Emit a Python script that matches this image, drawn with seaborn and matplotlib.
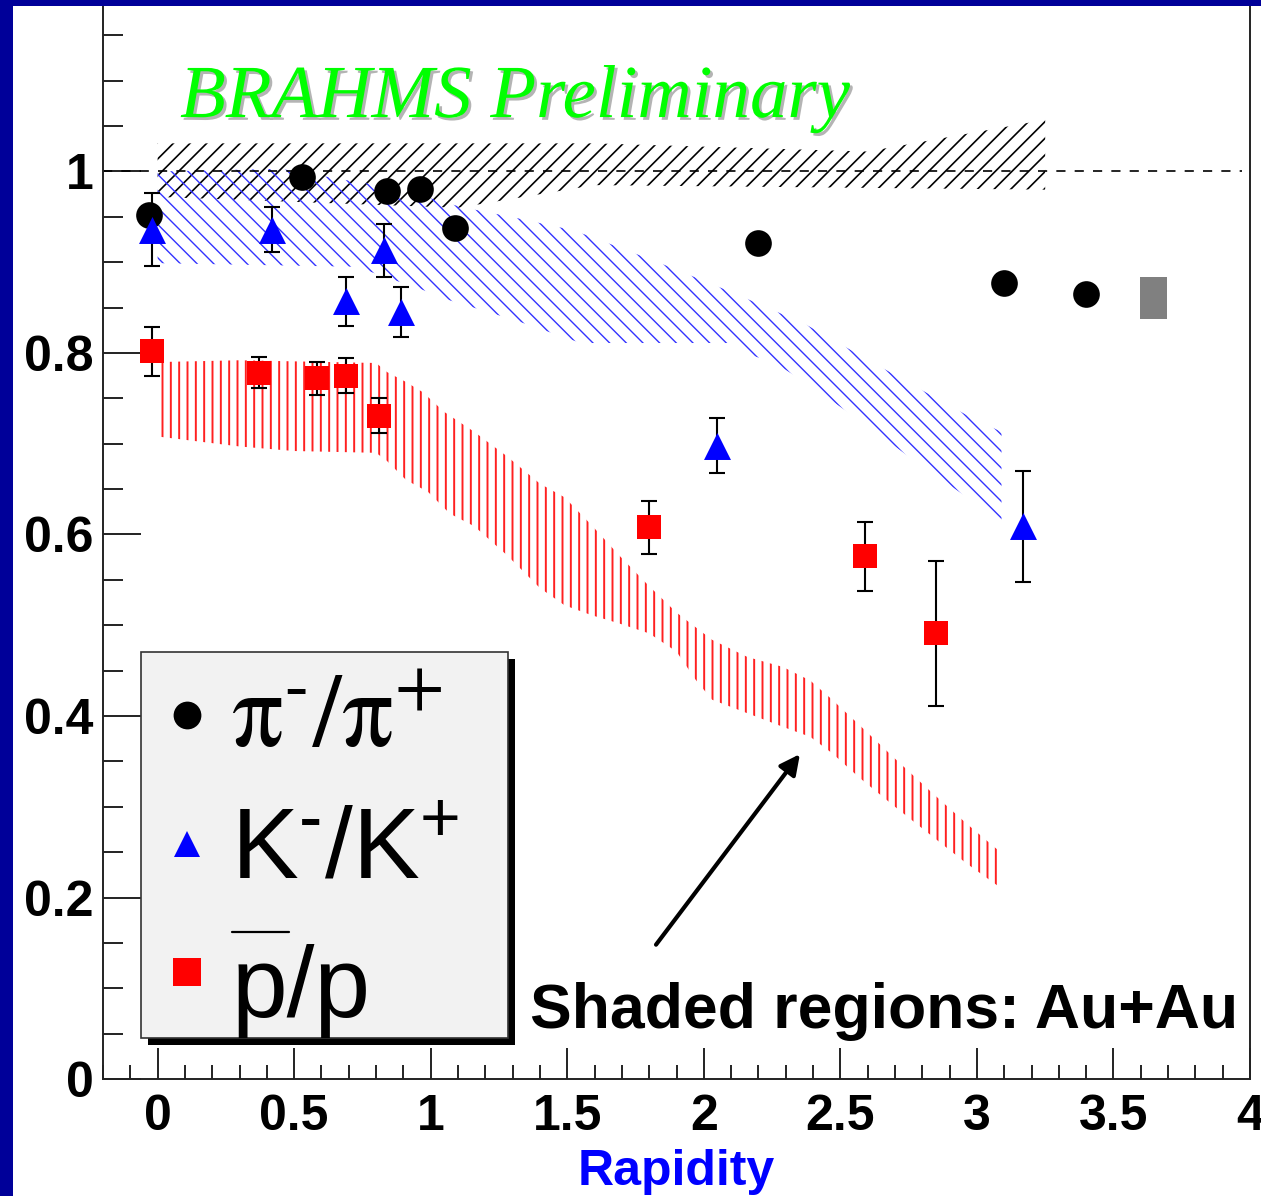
import numpy as np
import pandas as pd
import seaborn as sns
import matplotlib
matplotlib.use("Agg")
import matplotlib.pyplot as plt
from matplotlib.patches import Rectangle
from matplotlib.ticker import MultipleLocator
import matplotlib.patheffects as pe

# ---------------- d+Au antiparticle/particle ratios ----------------
pi_x = [-0.03, 0.53, 0.84, 0.96, 1.09, 2.20, 3.10, 3.40]
pi_ratio = [0.952, 0.994, 0.978, 0.981, 0.938, 0.921, 0.877, 0.865]
pi_err = [0.010, 0.010, 0.010, 0.010, 0.010, 0.010, 0.010, 0.010]

k_x = [-0.02, 0.42, 0.69, 0.83, 0.89, 2.05, 3.17]
k_ratio = [0.936, 0.936, 0.857, 0.913, 0.845, 0.698, 0.609]
k_err = [0.040, 0.025, 0.027, 0.029, 0.0275, 0.0305, 0.061]

p_x = [-0.02, 0.37, 0.585, 0.69, 0.81, 1.80, 2.59, 2.85]
p_ratio = [0.802, 0.7785, 0.772, 0.775, 0.731, 0.608, 0.576, 0.491]
p_err = [0.027, 0.0175, 0.0185, 0.0195, 0.019, 0.029, 0.038, 0.080]

# systematic uncertainty box
sys_x = [3.647]
sys_lo = [0.838]
sys_hi = [0.884]

# ---------------- Au+Au reference bands ----------------
pi_band_top_x = [0.0, 1.6, 2.6, 3.25]
pi_band_top = [1.031, 1.031, 1.022, 1.057]
pi_band_bot_x = [0.0, 1.1, 1.6, 3.25]
pi_band_bot = [0.972, 0.960, 0.985, 0.980]

k_band_top_x = [0.0, 0.45, 0.70, 0.85, 1.11, 1.31, 1.51, 1.58, 1.84, 2.11, 2.37, 2.61, 2.84, 2.96, 3.09]
k_band_top = [1.000, 1.003, 0.990, 0.983, 0.961, 0.949, 0.936, 0.929, 0.899, 0.866, 0.832, 0.791, 0.752, 0.732, 0.713]
k_band_bot_x = [0.0, 0.73, 0.83, 0.95, 1.07, 1.31, 1.55, 2.09, 2.17, 2.26, 2.37, 2.56, 2.75, 2.94, 3.09]
k_band_bot = [0.899, 0.895, 0.884, 0.872, 0.858, 0.836, 0.811, 0.811, 0.798, 0.789, 0.768, 0.728, 0.686, 0.646, 0.616]

p_band_top_x = [0.0, 0.3, 0.8, 0.84, 0.91, 0.97, 1.05, 1.16, 1.28, 1.40, 1.49, 1.59, 1.69, 1.80, 1.90,
                2.03, 2.16, 2.29, 2.39, 2.47, 2.57, 2.70, 2.83, 2.96, 3.09]
p_band_top = [0.790, 0.792, 0.789, 0.779, 0.768, 0.757, 0.735, 0.713, 0.686, 0.656, 0.641, 0.610, 0.577,
              0.543, 0.514, 0.484, 0.465, 0.454, 0.439, 0.418, 0.390, 0.353, 0.317, 0.282, 0.249]
p_band_bot_x = [0.0, 0.3, 0.5, 0.8, 0.84, 0.91, 0.99, 1.07, 1.16, 1.28, 1.40, 1.49, 1.59, 1.69, 1.80,
                1.90, 1.97, 2.03, 2.16, 2.29, 2.39, 2.47, 2.57, 2.70, 2.83, 2.96, 3.09]
p_band_bot = [0.708, 0.697, 0.692, 0.690, 0.681, 0.660, 0.647, 0.623, 0.609, 0.577, 0.541, 0.522, 0.511,
              0.502, 0.491, 0.471, 0.440, 0.418, 0.403, 0.388, 0.377, 0.359, 0.332, 0.300, 0.269,
              0.238, 0.210]

x_ticks = [0, 0.5, 1, 1.5, 2, 2.5, 3, 3.5, 4]
x_tick_labels = ["0", "0.5", "1", "1.5", "2", "2.5", "3", "3.5", "4"]
y_ticks = [0, 0.2, 0.4, 0.6, 0.8, 1.0]
y_tick_labels = ["0", "0.2", "0.4", "0.6", "0.8", "1"]

# ---------------- style ----------------
sns.set_theme(style="ticks")
plt.rcParams["font.family"] = ["Liberation Sans", "DejaVu Sans"]
plt.rcParams["mathtext.rm"] = "Liberation Sans"
plt.rcParams["mathtext.it"] = "Liberation Sans:italic"
plt.rcParams["mathtext.bf"] = "Liberation Sans:bold"
plt.rcParams["text.color"] = "black"
plt.rcParams["axes.labelcolor"] = "black"

W, H = 1261, 1196
fig = plt.figure(figsize=(W / 100, H / 100), dpi=100, facecolor="white")
ax = fig.add_axes([103 / W, 117 / H, 1147 / W, 1089 / H])
ax.set_facecolor("white")
ax.set_xlim(-0.2, 4.0)
ax.set_ylim(0, 1.2)


def band(xt, yt, xb, yb, color, hatch, lw):
    plt.rcParams["hatch.linewidth"] = lw
    ax.fill(np.r_[xt, xb[::-1]], np.r_[yt, yb[::-1]], facecolor="none",
            edgecolor=color, linewidth=0, hatch=hatch, zorder=1)


band(pi_band_top_x, pi_band_top, pi_band_bot_x, pi_band_bot, "black", "//", 1.2)
band(k_band_top_x, k_band_top, k_band_bot_x, k_band_bot, "#3333ff", "\\\\", 1.0)
band(p_band_top_x, p_band_top, p_band_bot_x, p_band_bot, "#ff2020", "||", 1.4)

# unity reference line
ax.axhline(1.0, xmax=0.993, color="black", lw=1.2, dashes=(5.5, 5.5), zorder=1.5)

# systematic box
ax.bar(sys_x, np.subtract(sys_hi, sys_lo), bottom=sys_lo, width=0.097,
       color="#808080", linewidth=0, zorder=3)

# error bars
for xs, ys, es in [(pi_x, pi_ratio, pi_err), (k_x, k_ratio, k_err), (p_x, p_ratio, p_err)]:
    ax.errorbar(xs, ys, yerr=es, fmt="none", ecolor="black", elinewidth=1.5,
                capsize=5.5, capthick=1.5, zorder=3)

# markers
df_pi = pd.DataFrame({"y": pi_x, "r": pi_ratio})
df_k = pd.DataFrame({"y": k_x, "r": k_ratio})
df_p = pd.DataFrame({"y": p_x, "r": p_ratio})
sns.scatterplot(data=df_pi, x="y", y="r", marker="o", s=19.2 ** 2, color="black",
                linewidth=0, ax=ax, zorder=4, legend=False)
sns.scatterplot(data=df_k, x="y", y="r", marker="^", s=19.4 ** 2, color="#0000ff",
                linewidth=0, ax=ax, zorder=4, legend=False)
sns.scatterplot(data=df_p, x="y", y="r", marker="s", s=17.5 ** 2, color="#ff0000",
                linewidth=0, ax=ax, zorder=4, legend=False)

# axes
ax.set_xticks(x_ticks, labels=x_tick_labels, fontweight="bold")
ax.set_yticks(y_ticks, labels=y_tick_labels, fontweight="bold")
ax.xaxis.set_minor_locator(MultipleLocator(0.1))
ax.yaxis.set_minor_locator(MultipleLocator(0.05))
ax.tick_params(axis="x", which="major", direction="in", length=22, width=1.4, pad=11,
               labelsize=36, colors="#222222", labelcolor="black", top=False)
ax.tick_params(axis="x", which="minor", direction="in", length=10, width=1.4,
               colors="#222222", top=False)
ax.tick_params(axis="y", which="major", direction="in", length=27, width=1.4, pad=7,
               labelsize=36, colors="#222222", labelcolor="black", right=False)
ax.tick_params(axis="y", which="minor", direction="in", length=14.5, width=1.4,
               colors="#222222", right=False)
for side in ["left", "bottom", "right"]:
    ax.spines[side].set_visible(True)
    ax.spines[side].set_color("#222222")
    ax.spines[side].set_linewidth(1.4)
ax.spines["top"].set_visible(False)
ax.set_xlabel("Rapidity", color="#0000ff", fontsize=36, fontweight="bold")
ax.xaxis.set_label_coords(0.5, -0.064)
ax.set_ylabel("")

# header
ax.text(0.082, 1.06, "BRAHMS Preliminary", fontsize=54, color="#00ff00",
        family=["Liberation Serif", "DejaVu Serif"], style="italic",
        ha="left", va="baseline", zorder=6,
        path_effects=[pe.withSimplePatchShadow(offset=(2.0, -2.0),
                                               shadow_rgbFace="#b4b4b4", alpha=1.0)])

# annotation
ax.text(1.364, 0.056, "Shaded regions: Au+Au", fontsize=45, fontweight="bold",
        color="black", ha="left", va="baseline", zorder=6)
ax.annotate("", xy=(2.352, 0.358), xytext=(1.825, 0.148),
            arrowprops=dict(arrowstyle="-|>", lw=3, color="black", mutation_scale=30,
                            shrinkA=0, shrinkB=0), zorder=6)

# legend box
T = ax.transAxes
ax.add_patch(Rectangle((0.0331 + 0.0061, 0.0374 - 0.0064), 0.3203, 0.355,
                       transform=T, facecolor="black", edgecolor="none", zorder=7))
ax.add_patch(Rectangle((0.0331, 0.0374), 0.3203, 0.355, transform=T,
                       facecolor="#f2f2f2", edgecolor="#333333", lw=1.2, zorder=7.1))
ax.plot([0.073], [0.3343], marker="o", ms=20, color="black", mew=0, transform=T, zorder=8)
ax.plot([0.073], [0.2158], marker="^", ms=19.4, color="#0000ff", mew=0, transform=T, zorder=8)
ax.plot([0.073], [0.0978], marker="s", ms=20, color="#ff0000", mew=0, transform=T, zorder=8)
ax.text(0.112, 0.3049, "$\\mathrm{\\pi^{\u2010}/\\pi^{+}}$", fontsize=74, transform=T,
        math_fontfamily="stix", color="black", ha="left", va="baseline", zorder=8)
ax.text(0.112, 0.1846, "$\\mathrm{K^{\u2010}/K^{+}}$", fontsize=72, transform=T,
        math_fontfamily="custom", color="black", ha="left", va="baseline", zorder=8)
ax.text(0.112, 0.0572, "p/p", fontsize=72, transform=T, color="black",
        ha="left", va="baseline", zorder=8)
ax.plot([0.1122, 0.1622], [0.1353, 0.1353], color="black", lw=1.6, transform=T, zorder=8)

# slide frame
fig.add_artist(Rectangle((0, 0), 12.5 / W, 1, transform=fig.transFigure,
                         facecolor="#000099", edgecolor="none", zorder=20))
fig.add_artist(Rectangle((0, 1 - 6 / H), 1, 6 / H, transform=fig.transFigure,
                         facecolor="#000099", edgecolor="none", zorder=20))

fig.savefig("out.png", dpi=100, facecolor="white")
